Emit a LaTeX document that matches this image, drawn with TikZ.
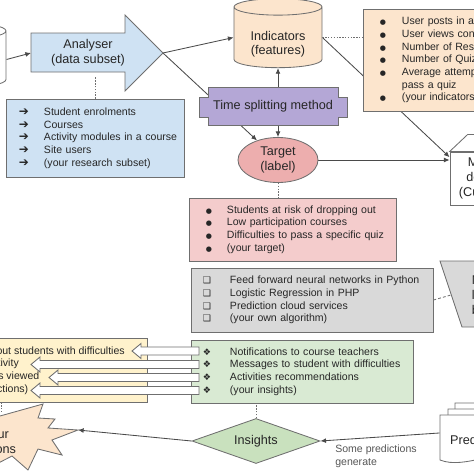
\documentclass[tikz,border=0pt]{standalone}
\usepackage{fontspec}
\setmainfont{Liberation Sans}
\newfontfamily\dejavu{DejaVu Sans}
\usepackage{xcolor}
\usepackage{tikz}
\usetikzlibrary{shapes.geometric, arrows.meta}

\pgfdeclarelayer{background}
\pgfsetlayers{background,main}

\definecolor{edgegray}{HTML}{6F6F6F}
\definecolor{linegray}{HTML}{4A4A4A}
\definecolor{textgray}{HTML}{262626}
\definecolor{notegray}{HTML}{555555}
\definecolor{bluefill}{HTML}{CFE2F3}
\definecolor{peachfill}{HTML}{FCE5CD}
\definecolor{yellowfill}{HTML}{FFF2CC}
\definecolor{purplefill}{HTML}{B4A7D6}
\definecolor{pinkfill}{HTML}{F4CCCC}
\definecolor{rosefill}{HTML}{EDAEAE}
\definecolor{grayfill}{HTML}{D9D9D9}
\definecolor{greenfill}{HTML}{D9EAD3}
\definecolor{mintfill}{HTML}{C9E1BE}

\newcommand{\listfont}{\fontsize{7.5}{9}\selectfont}
\newcommand{\titlefont}{\fontsize{9}{10.6}\selectfont}
\newcommand{\arrbul}{{\dejavu\fontsize{8.5}{9}\selectfont ➔}}
\newcommand{\dotbul}{{\dejavu\fontsize{5}{9}\selectfont ●}}
\newcommand{\boxbul}{{\dejavu\fontsize{6.5}{9}\selectfont ❑}}
\newcommand{\diabul}{{\dejavu\fontsize{6.5}{9}\selectfont ❖}}
\newcommand{\lowered}[1]{\raisebox{-5pt}[\height][\depth]{\begin{tabular}{@{}c@{}}#1\end{tabular}}}
\newlength{\bulin}
\newlength{\bulw}
\newcommand{\itm}[2]{\hspace*{\bulin}\makebox[\bulw][l]{#1}#2}

\begin{document}
\begin{tikzpicture}[x=0.025cm, y=-0.025cm,
    >={Latex[length=4pt,width=3.5pt]},
    title/.style={font=\titlefont, text=textgray, align=center, inner sep=0pt},
    listbox/.style={draw=edgegray, line width=0.6pt, rectangle, font=\listfont, text=textgray, align=left, inner ysep=0pt, inner xsep=0.1cm},
    shapeline/.style={draw=edgegray, line width=0.6pt},
    link/.style={draw=linegray, line width=0.6pt},
    dotlink/.style={draw=edgegray, line width=0.6pt, dash pattern=on 1pt off 1pt},
    dashlink/.style={draw=edgegray, line width=0.6pt, dash pattern=on 2pt off 1.5pt},
    database/.style={cylinder, shape border rotate=90, aspect=0.3, shapeline, title}
]
    \useasboundingbox (0,0) rectangle (474,474);
    \clip (0,0) rectangle (474,474);

    % data sources
    \node[database, fill=white, minimum width=2.2cm, minimum height=1.625cm] (rawdata) at (-38,59.5) {\phantom{Indicators}\\\phantom{(features)}};

    % analyser arrow
    \coordinate (anback) at (31,53);
    \coordinate (antip) at (163,53);
    \draw[shapeline, fill=bluefill] (31,33) -- (125,33) -- (125,15) -- (antip) -- (125,91) -- (125,72) -- (31,72) -- cycle;
    \node[title] (analyser) at (88,53) {Analyser\\(data subset)};

    \node[listbox, fill=bluefill, minimum width=4.45cm, minimum height=1.95cm, text width=4.25cm] (bluelist) at (95,138) {\setlength{\bulin}{0.22cm}\setlength{\bulw}{0.63cm}%
        \itm{\arrbul}{Student enrolments}\\
        \itm{\arrbul}{Courses}\\
        \itm{\arrbul}{Activity modules in a course}\\
        \itm{\arrbul}{Site users}\\
        \itm{\arrbul}{(your research subset)}};

    % indicators
    \node[database, fill=peachfill, minimum width=2.2cm, minimum height=1.725cm] (indicators) at (278,37.5) {\lowered{Indicators\\(features)}};

    \node[listbox, fill=peachfill, minimum width=4.425cm, minimum height=2.55cm, text width=4.225cm] (indlist) at (451.5,60) {\setlength{\bulin}{0.325cm}\setlength{\bulw}{0.55cm}%
        \itm{\dotbul}{User posts in an activity}\\
        \itm{\dotbul}{User views content}\\
        \itm{\dotbul}{Number of Resources}\\
        \itm{\dotbul}{Number of Quizzes}\\
        \itm{\dotbul}{Average attempts to}\\
        \itm{}{pass a quiz}\\
        \itm{\dotbul}{(your indicators)}};

    % time splitting
    \draw[shapeline, fill=purplefill] (208,87) -- (338,87) -- (338,97) -- (347,97) -- (347,117) -- (338,117) -- (338,125)
        -- (208,125) -- (208,117) -- (199,117) -- (199,97) -- (208,97) -- cycle;
    \node[title, minimum width=3.25cm, minimum height=0.95cm] (timesplit) at (273,106) {Time splitting method};

    % target
    \node[ellipse, shapeline, fill=rosefill, title, minimum width=2cm, minimum height=1.125cm] (target) at (278,160) {Target\\(label)};

    \node[listbox, fill=pinkfill, minimum width=5.175cm, minimum height=1.575cm, text width=4.975cm] (pinklist) at (292.5,229.5) {\setlength{\bulin}{0.325cm}\setlength{\bulw}{0.525cm}%
        \itm{\dotbul}{Students at risk of dropping out}\\
        \itm{\dotbul}{Low participation courses}\\
        \itm{\dotbul}{Difficulties to pass a specific quiz}\\
        \itm{\dotbul}{(your target)}};

    % model
    \node[rectangle, shapeline, fill=white, title, minimum width=1.75cm, minimum height=1.325cm] (model) at (485,178.5) {Model\\design\\(Custom)};
    \draw[shapeline, fill=white] (model.north west) -- ++(18,-17) -- ++(70,0) -- (model.north east) -- cycle;

    % algorithms
    \node[listbox, fill=grayfill, minimum width=6.05cm, minimum height=1.6cm, text width=5.85cm] (graylist) at (312,300) {\setlength{\bulin}{0.2cm}\setlength{\bulw}{0.675cm}%
        \itm{\boxbul}{Feed forward neural networks in Python}\\
        \itm{\boxbul}{Logistic Regression in PHP}\\
        \itm{\boxbul}{Prediction cloud services}\\
        \itm{\boxbul}{(your own algorithm)}};

    \draw[shapeline, fill=grayfill] (440,261) -- (580,261) -- (558,327) -- (462,327) -- cycle;
    \coordinate (mlside) at (451,295);
    \node[title, align=left, anchor=west] (mlback) at (471.5,295) {Machine\\learning\\backends};

    % insights
    \node[listbox, fill=greenfill, minimum width=5.55cm, minimum height=1.575cm, text width=5.35cm] (greenlist) at (302,371.5) {\setlength{\bulin}{0.2cm}\setlength{\bulw}{0.675cm}%
        \itm{\diabul}{Notifications to course teachers}\\
        \itm{\diabul}{Messages to student with difficulties}\\
        \itm{\diabul}{Activities recommendations}\\
        \itm{\diabul}{(your insights)}};

    \node[rectangle, shapeline, fill=yellowfill, minimum width=7.3cm, minimum height=1.6cm] (actions) at (1,370) {};
    \node[font=\listfont, text=textgray, align=left, anchor=west, inner sep=0pt] (actiontext) at (-36,370.5) {Info about students with difficulties\\
        Low activity\\
        Courses viewed\\
        (your actions)};

    \foreach \yy/\tipx in {351/132, 364.5/31, 377.5/49, 390.5/31} {
        \draw[shapeline, fill=white] (199,\yy-4) -- (\tipx+9,\yy-4) -- (\tipx+9,\yy-7.5) -- (\tipx,\yy)
            -- (\tipx+9,\yy+7.5) -- (\tipx+9,\yy+4) -- (199,\yy+4) -- cycle;
    }

    \node[diamond, shapeline, fill=mintfill, title, aspect=2.8, minimum width=3.2cm, minimum height=1.125cm] (insights) at (256,441) {Insights};

    % actions burst
    \draw[shapeline, fill=peachfill] (-30,405) -- (0,416) -- (43,404) -- (38,418) -- (55,419) -- (48,428) -- (78,430)
        -- (52,440) -- (62,455) -- (38,449) -- (28,470) -- (12,456) -- (-15,470) -- (-40,440) -- cycle;
    \coordinate (burstpoint) at (78,430);
    \node[title] (burst) at (-4,442) {Your\\actions};

    % predictions
    \foreach \dx/\dy in {15/-12, 8/-6, 0/0} {
        \draw[shapeline, fill=white] (440+\dx,415+\dy) -- (523+\dx,415+\dy) -- (523+\dx,457+\dy)
            .. controls (500+\dx,447+\dy) and (465+\dx,470+\dy) .. (440+\dx,460+\dy) -- cycle;
    }
    \node[title, minimum width=2.075cm, minimum height=1.125cm] (pred) at (481.5,440) {Predictions};
    \node[font=\listfont, text=notegray, align=left, anchor=north west, inner sep=0pt] (prednote) at (335,445) {Some predictions\\generate};

    \begin{pgfonlayer}{background}
        \draw[link, ->] (rawdata.east) -- (anback);
        \draw[link, ->] (antip) -- (indicators.west);
        \draw[link, ->] (antip) -- (target);
        \draw[link, ->] (indicators.south |- timesplit.north) -- (indicators.south);
        \draw[link, ->] (indicators.south |- timesplit.south) -- (target.north);
        \draw[link, ->] (indicators.east) -- ([yshift=-4pt]model.north west);
        \draw[link, ->] (target.east) -- (target.east -| model.west);
        \draw[link, ->] ([yshift=5pt]pred.west) -- (insights.east);
        \draw[link, ->] (insights.west) -- (burstpoint);

        \draw[dotlink] (bluelist.north) -- ++(0,-22);
        \draw[dotlink] (indicators.east) -- (indicators.east -| indlist.west);
        \draw[dotlink] (target.south) -- (target.south |- pinklist.north);
        \draw[dashlink] (graylist.east) -- (mlside);
        \draw[dotlink] (insights.north) -- (insights.north |- greenlist.south);
        \draw[dotlink] (actions.south) -- ++(0,9);
    \end{pgfonlayer}
\end{tikzpicture}
\end{document}
